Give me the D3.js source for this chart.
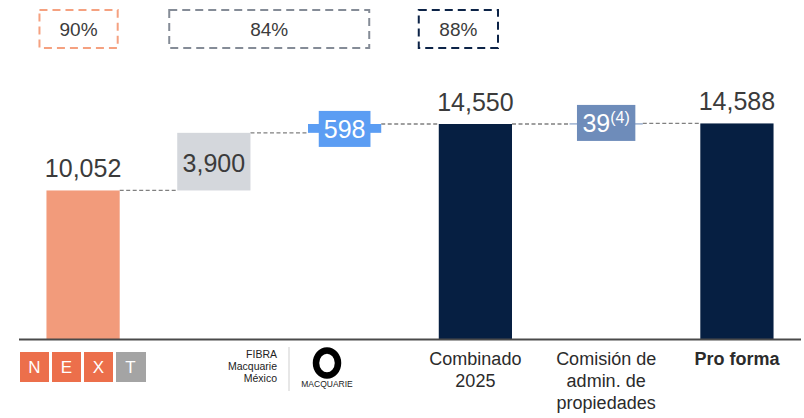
<!DOCTYPE html>
<html>
<head>
<meta charset="utf-8">
<script src="https://cdn.jsdelivr.net/npm/d3@7"></script>
<style>
  body { margin: 0; background: #fff; }
  svg { display: block; font-family: "Liberation Sans", Arial, sans-serif; }
</style>
</head>
<body>
<svg id="chart" width="804" height="418"></svg>
<script>
// data
var keys = ["next", "fibra", "ajuste", "combinado", "comision", "proforma"];
var values = [10052, 3900, 598, 14550, 39, 14588];
var kinds = ["total", "delta", "delta", "total", "delta", "total"];
var valueLabels = ["10,052", "3,900", "598", "14,550", "39", "14,588"];
var categoryLabels = [null, null, null, ["Combinado", "2025"], ["Comisión de", "admin. de", "propiedades"], ["Pro forma"]];
var pctLabels = ["90%", "84%", "88%"];
var pctSpans = [["next", "next"], ["fibra", "ajuste"], ["combinado", "combinado"]];

var colors = ["#f29b7b", "#d4d7dc", "#5b9df3", "#061f42", "#6e8cba", "#061f42"];
var pctColors = ["#f5a180", "#858c97", "#0c2347"];
var pctPad = [[-7, -2], [-8, -12], [-20, -14]];

var svg = d3.select("#chart");

var x = d3.scaleBand().domain(keys).range([19, 801]).paddingInner(0.44).paddingOuter(0.21);
var y = d3.scaleLinear().domain([0, 14550]).range([339, 124]);
var bw = x.bandwidth();

// waterfall layout
var run = 0;
var bars = keys.map(function (k, i) {
    var lo, hi;
    if (kinds[i] === "total") { lo = 0; hi = values[i]; run = values[i]; }
    else { lo = run; hi = run + values[i]; run = hi; }
    return { key: k, i: i, lo: lo, hi: hi };
});

// connectors
var conn = svg.append("g");
bars.slice(0, -1).forEach(function (b, i) {
    conn.append("line")
        .attr("x1", x(b.key) + bw).attr("x2", x(keys[i + 1]))
        .attr("y1", y(b.hi)).attr("y2", y(b.hi))
        .attr("stroke", "#808080").attr("stroke-width", 1.3)
        .attr("stroke-dasharray", "4,2.5");
});

// bars
svg.append("g").selectAll("rect").data(bars).enter().append("rect")
    .attr("x", function (d) { return x(d.key); })
    .attr("width", bw)
    .attr("y", function (d) { return y(d.hi); })
    .attr("height", function (d) { return Math.max(1, y(d.lo) - y(d.hi)); })
    .attr("fill", function (d) { return colors[d.i]; });

// axis baseline
svg.append("line").attr("x1", 19).attr("x2", 801).attr("y1", y(0) + 0.5).attr("y2", y(0) + 0.5)
    .attr("stroke", "#4a4a4a").attr("stroke-width", 2);

// value labels
var lab = svg.append("g").attr("fill", "#3b3b3b").attr("font-size", 25).attr("text-anchor", "middle");
bars.forEach(function (b) {
    var cx = x(b.key) + bw / 2;
    if (kinds[b.i] === "total") {
        lab.append("text").attr("x", cx).attr("y", y(b.hi) - 13).text(valueLabels[b.i]);
    } else if (b.key === "fibra") {
        lab.append("text").attr("x", cx).attr("y", (y(b.lo) + y(b.hi)) / 2 + 10).text(valueLabels[b.i]);
    } else {
        var cy = b.key === "ajuste" ? (y(b.lo) + y(b.hi)) / 2 + 0.5 : y(b.hi) - 0.5;
        var gb = svg.append("g");
        var bg = gb.append("rect").attr("fill", colors[b.i]);
        var t = gb.append("text").attr("x", cx).attr("y", cy + 9)
            .attr("fill", "#fff").attr("font-size", 25).attr("text-anchor", "middle");
        if (b.key === "comision") {
            t.append("tspan").text(valueLabels[b.i]);
            t.append("tspan").attr("font-size", 16).attr("dy", -9).text("(4)");
        } else {
            t.text(valueLabels[b.i]);
        }
        var tw = t.node().getComputedTextLength();
        var padX = b.key === "comision" ? 5.5 : 5;
        bg.attr("x", cx - tw / 2 - padX).attr("width", tw + 2 * padX)
            .attr("y", cy - 18).attr("height", 36);
    }
});

// percentage boxes
pctLabels.forEach(function (p, i) {
    var x0 = x(pctSpans[i][0]) + pctPad[i][0];
    var x1 = x(pctSpans[i][1]) + bw + pctPad[i][1];
    svg.append("rect").attr("x", x0).attr("y", 10).attr("width", x1 - x0).attr("height", 38)
        .attr("fill", "none").attr("stroke", pctColors[i]).attr("stroke-width", 2)
        .attr("stroke-dasharray", "8,5");
    svg.append("text").attr("x", (x0 + x1) / 2).attr("y", 36).attr("text-anchor", "middle")
        .attr("font-size", 19).attr("fill", "#3b3b3b").text(p);
});

// category labels
var cat = svg.append("g").attr("font-size", 18).attr("fill", "#2b2b2b").attr("text-anchor", "middle");
categoryLabels.forEach(function (lines, i) {
    if (!lines) return;
    var t = cat.append("text").attr("x", x(keys[i]) + bw / 2).attr("y", 365)
        .attr("font-weight", keys[i] === "proforma" ? "bold" : "normal");
    lines.forEach(function (l, j) {
        t.append("tspan").attr("x", x(keys[i]) + bw / 2).attr("dy", j ? 22 : 0).text(l);
    });
});

// NEXT logo
var nx = svg.append("g");
["N", "E", "X", "T"].forEach(function (c, i) {
    nx.append("rect").attr("x", 20 + i * 32).attr("y", 352).attr("width", i === 3 ? 30 : 29).attr("height", 30)
        .attr("fill", i === 3 ? "#a4a4a4" : "#ec6f4b");
    nx.append("text").attr("x", 20 + i * 32 + 14.5).attr("y", 373).attr("text-anchor", "middle")
        .attr("fill", "#fff").attr("font-size", 17).attr("font-weight", 300).text(c);
});

// FIBRA Macquarie logo
var fm = svg.append("g").attr("fill", "#222");
["FIBRA", "Macquarie", "México"].forEach(function (l, i) {
    fm.append("text").attr("x", 277).attr("y", 358 + i * 12).attr("text-anchor", "end")
        .attr("font-size", 10.5).text(l);
});
fm.append("line").attr("x1", 289).attr("x2", 289).attr("y1", 347).attr("y2", 391)
    .attr("stroke", "#cfcfcf").attr("stroke-width", 1);
fm.append("ellipse").attr("cx", 327).attr("cy", 363).attr("rx", 11).attr("ry", 12.5)
    .attr("fill", "none").attr("stroke", "#000").attr("stroke-width", 6.5);
fm.append("text").attr("x", 327).attr("y", 387).attr("text-anchor", "middle")
    .attr("font-size", 8.5).text("MACQUARIE");
</script>
</body>
</html>
